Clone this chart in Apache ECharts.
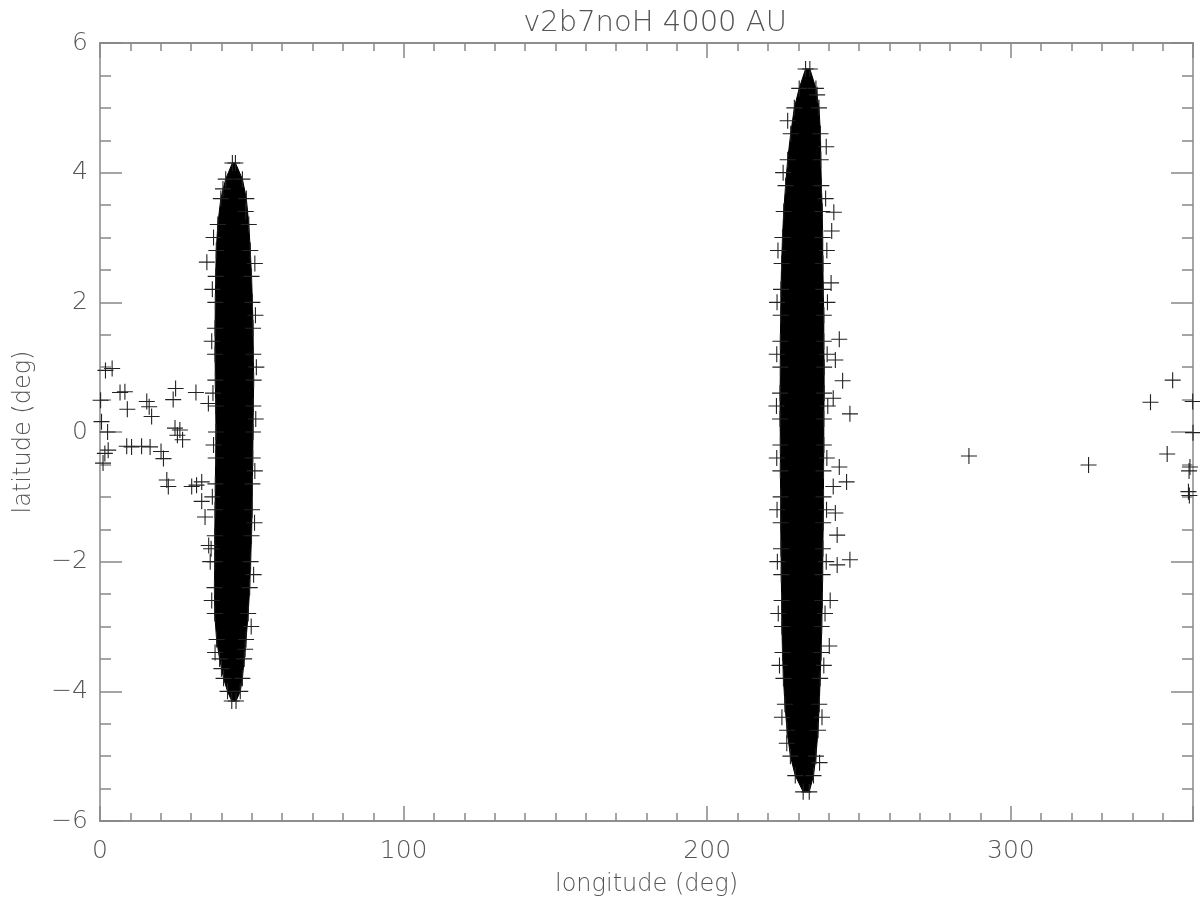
<!DOCTYPE html>
<html>
<head>
<meta charset="utf-8">
<title>v2b7noH 4000 AU</title>
<script src="https://cdn.jsdelivr.net/npm/echarts@6/dist/echarts.min.js"></script>
<style>
  html, body { margin: 0; padding: 0; background: #fff; }
  #chart { width: 1200px; height: 907px; }
</style>
</head>
<body>
<div id="chart"></div>
<script>
// tick labels
const xTicks = [0, 100, 200, 300]
const yTicks = [-6, -4, -2, 0, 2, 4, 6]

// dense cluster near lon 45, one row per latitude: edge of the solid core
const clusterALat = [4.15, 3.9, 3.6, 3.2, 2.8, 2.4, 2.0, 1.6, 1.2, 0.8, 0.4, 0.0, -0.4, -0.8, -1.2, -1.6, -2.0, -2.4, -2.8, -3.2, -3.5, -3.8, -4.0, -4.15]
const clusterALeft = [43.6, 41.4, 39.8, 38.8, 38.3, 38.1, 38.0, 37.9, 37.9, 38.0, 38.1, 38.2, 38.1, 38.0, 37.9, 37.8, 37.8, 37.7, 37.8, 38.4, 39.4, 40.7, 42.0, 43.4]
const clusterARight = [44.6, 46.9, 48.2, 49.0, 49.5, 49.9, 50.2, 50.4, 50.5, 50.6, 50.5, 50.4, 50.3, 50.2, 50.1, 49.9, 49.6, 49.3, 48.8, 48.1, 47.5, 46.9, 46.2, 44.8]

// dense cluster near lon 232
const clusterBLat = [5.6, 5.3, 5.0, 4.6, 4.2, 3.8, 3.4, 3.0, 2.6, 2.2, 1.8, 1.4, 1.0, 0.6, 0.2, -0.2, -0.6, -1.0, -1.4, -1.8, -2.2, -2.6, -3.0, -3.4, -3.8, -4.2, -4.6, -5.0, -5.3, -5.55]
const clusterBLeft = [232.4, 230.3, 228.7, 227.5, 226.5, 225.8, 225.2, 224.8, 224.5, 224.3, 224.2, 224.1, 224.1, 224.0, 224.0, 224.1, 224.1, 224.2, 224.2, 224.3, 224.4, 224.5, 224.6, 224.8, 225.1, 225.6, 226.3, 227.4, 229.0, 231.6]
const clusterBRight = [233.8, 235.8, 236.8, 237.3, 237.4, 237.6, 237.9, 238.0, 238.1, 238.2, 238.4, 238.4, 238.5, 238.5, 238.4, 238.4, 238.3, 238.3, 238.2, 238.1, 238.0, 237.9, 237.7, 237.5, 237.2, 236.9, 236.5, 235.8, 235.0, 233.6]

// crosses sticking out of the cluster edges [lon, lat]
const fuzzA = [
  [37.4, 3.0], [37.0, 2.2], [36.8, 1.4], [37.2, 0.6], [37.4, -0.2], [37.0, -1.0],
  [36.6, -1.8], [36.8, -2.6], [37.9, -3.4], [40.5, 3.75], [40.0, -3.65],
  [51.0, 2.6], [51.2, 1.8], [51.5, 1.0], [51.3, 0.2], [51.0, -0.6], [50.9, -1.4],
  [50.6, -2.2], [49.8, -3.0], [48.0, 3.4], [47.8, -3.35]
]
const fuzzB = [
  [223.3, 2.8], [223.0, 2.0], [222.9, 1.2], [222.8, 0.4], [222.9, -0.4], [223.0, -1.2],
  [223.1, -2.0], [223.4, -2.8], [223.8, -3.6], [224.6, -4.4], [226.2, -4.8],
  [225.0, 4.0], [226.5, 4.8], [239.2, 4.4], [239.0, 3.6], [239.4, 2.8], [239.6, 2.0],
  [239.5, 1.2], [239.7, 0.4], [239.4, -0.4], [239.3, -1.2], [239.2, -2.0],
  [238.8, -2.8], [238.4, -3.6], [237.8, -4.4], [237.0, -5.1], [236.2, 5.2]
]

// scattered points [lon, lat]
const strayWest = [
  [1.8, 0.95], [4.0, 0.98], [6.6, 0.61], [8.2, 0.62], [9.0, 0.35],
  [15.4, 0.47], [16.2, 0.39], [17.0, 0.24], [24.9, 0.67], [24.1, 0.50],
  [31.6, 0.61], [35.7, 0.44], [0.5, 0.16], [0.2, 0.49], [2.5, 0.0],
  [24.7, 0.06], [26.3, 0.03], [27.2, -0.12], [25.5, -0.05],
  [2.7, -0.28], [1.6, -0.33], [8.8, -0.22], [10.4, -0.23], [13.7, -0.22], [16.5, -0.23],
  [20.1, -0.30], [20.9, -0.41], [22.0, -0.74], [22.5, -0.84],
  [30.2, -0.84], [31.8, -0.82], [33.5, -0.77], [33.5, -1.07], [34.6, -1.31],
  [1.0, -0.48], [35.8, -1.75], [36.3, -2.0], [35.2, 2.62]
]
const strayEast = [
  [243.5, 1.43], [242.2, 1.11], [244.6, 0.79], [241.5, 0.52], [247.0, 0.28],
  [243.5, -0.54], [245.9, -0.77], [241.5, -0.84], [242.2, -1.25], [242.8, -1.59],
  [247.0, -1.97], [242.8, -2.05], [241.7, 3.39], [241.0, 3.1], [240.8, 2.3],
  [240.5, -2.6], [240.2, -3.3]
]
const strayFar = [
  [286.2, -0.37], [325.6, -0.51], [346.0, 0.46], [353.3, 0.80], [351.5, -0.34],
  [359.0, -0.54], [358.7, -0.60], [358.5, -0.92], [358.8, -0.98], [360, -0.01], [359.9, 0.47]
]

function outline (lat, left, right) {
  const down = lat.map((la, i) => [left[i], la])
  const up = lat.map((la, i) => [right[i], la]).reverse()
  return down.concat(up)
}
const outlines = [
  outline(clusterALat, clusterALeft, clusterARight),
  outline(clusterBLat, clusterBLeft, clusterBRight)
]
const edgePoints = outlines[0].concat(outlines[1], fuzzA, fuzzB)

const textColor = '#555'
const lineColor = '#888'
const font = 'DejaVu Sans'
const cross = 'path://M0,5L10,5M5,0L5,10'

function xAxisDef (position, interval, len, labels) {
  return {
    type: 'value',
    position: position,
    min: 0,
    max: 360,
    interval: interval,
    axisLine: { show: true, onZero: false, lineStyle: { color: lineColor, width: 1.5 } },
    axisTick: { show: true, inside: true, length: len, lineStyle: { color: lineColor, width: 1.5 } },
    axisLabel: {
      show: labels,
      margin: 18,
      fontFamily: font,
      fontSize: 25,
      fontWeight: 200,
      color: textColor,
      formatter: v => (xTicks.indexOf(v) >= 0 ? String(v) : '')
    },
    splitLine: { show: false }
  }
}

function yAxisDef (position, labels) {
  return {
    type: 'value',
    position: position,
    min: -6,
    max: 6,
    interval: 2,
    axisLine: { show: true, onZero: false, lineStyle: { color: lineColor, width: 1.5 } },
    axisTick: { show: true, inside: true, length: 22, lineStyle: { color: lineColor, width: 1.5 } },
    minorTick: { show: true, splitNumber: 4, length: 11, lineStyle: { color: lineColor, width: 1.5 } },
    axisLabel: {
      show: labels,
      margin: 12,
      fontFamily: font,
      fontSize: 25,
      fontWeight: 200,
      color: textColor,
      formatter: v => (yTicks.indexOf(v) >= 0 ? (v < 0 ? '\u2212' + Math.abs(v) : String(v)) : '')
    },
    splitLine: { show: false },
    minorSplitLine: { show: false }
  }
}

const xMain = xAxisDef('bottom', 100, 15, true)
xMain.name = 'longitude (deg)'
xMain.nameLocation = 'middle'
xMain.nameGap = 52
xMain.nameTextStyle = { fontFamily: font, fontSize: 24, fontWeight: 200, color: textColor }

const yMain = yAxisDef('left', true)
yMain.name = 'latitude (deg)'
yMain.nameLocation = 'middle'
yMain.nameGap = 64
yMain.nameTextStyle = { fontFamily: font, fontSize: 24, fontWeight: 200, color: textColor }

const chart = echarts.init(document.getElementById('chart'), null, { renderer: 'canvas' })
chart.setOption({
  animation: false,
  backgroundColor: '#fff',
  title: {
    text: 'v2b7noH 4000 AU',
    left: 650,
    top: 4,
    textAlign: 'center',
    textStyle: { fontFamily: font, fontSize: 29, fontWeight: 200, color: textColor }
  },
  grid: { left: 100, right: 7, top: 43, bottom: 86, containLabel: false, outerBoundsMode: 'none' },
  xAxis: [
    xMain,
    xAxisDef('bottom', 10, 8, false),
    xAxisDef('top', 100, 15, false),
    xAxisDef('top', 10, 8, false)
  ],
  yAxis: [
    yMain,
    yAxisDef('right', false)
  ],
  series: [
    {
      type: 'custom',
      xAxisIndex: 0,
      yAxisIndex: 0,
      silent: true,
      z: 1,
      data: [[44, 0, 0], [232, 0, 1]],
      renderItem: function (params, api) {
        const pts = outlines[api.value(2)].map(p => api.coord(p))
        return {
          type: 'polygon',
          shape: { points: pts },
          style: { fill: '#000', stroke: '#000', lineWidth: 1 }
        }
      }
    },
    {
      type: 'scatter',
      xAxisIndex: 0,
      yAxisIndex: 0,
      silent: true,
      z: 2,
      symbol: cross,
      symbolSize: 16,
      itemStyle: { color: 'rgba(0,0,0,0)', borderColor: '#222', borderWidth: 1.1, opacity: 1 },
      data: edgePoints.concat(strayWest, strayEast, strayFar)
    }
  ]
})
</script>
</body>
</html>
